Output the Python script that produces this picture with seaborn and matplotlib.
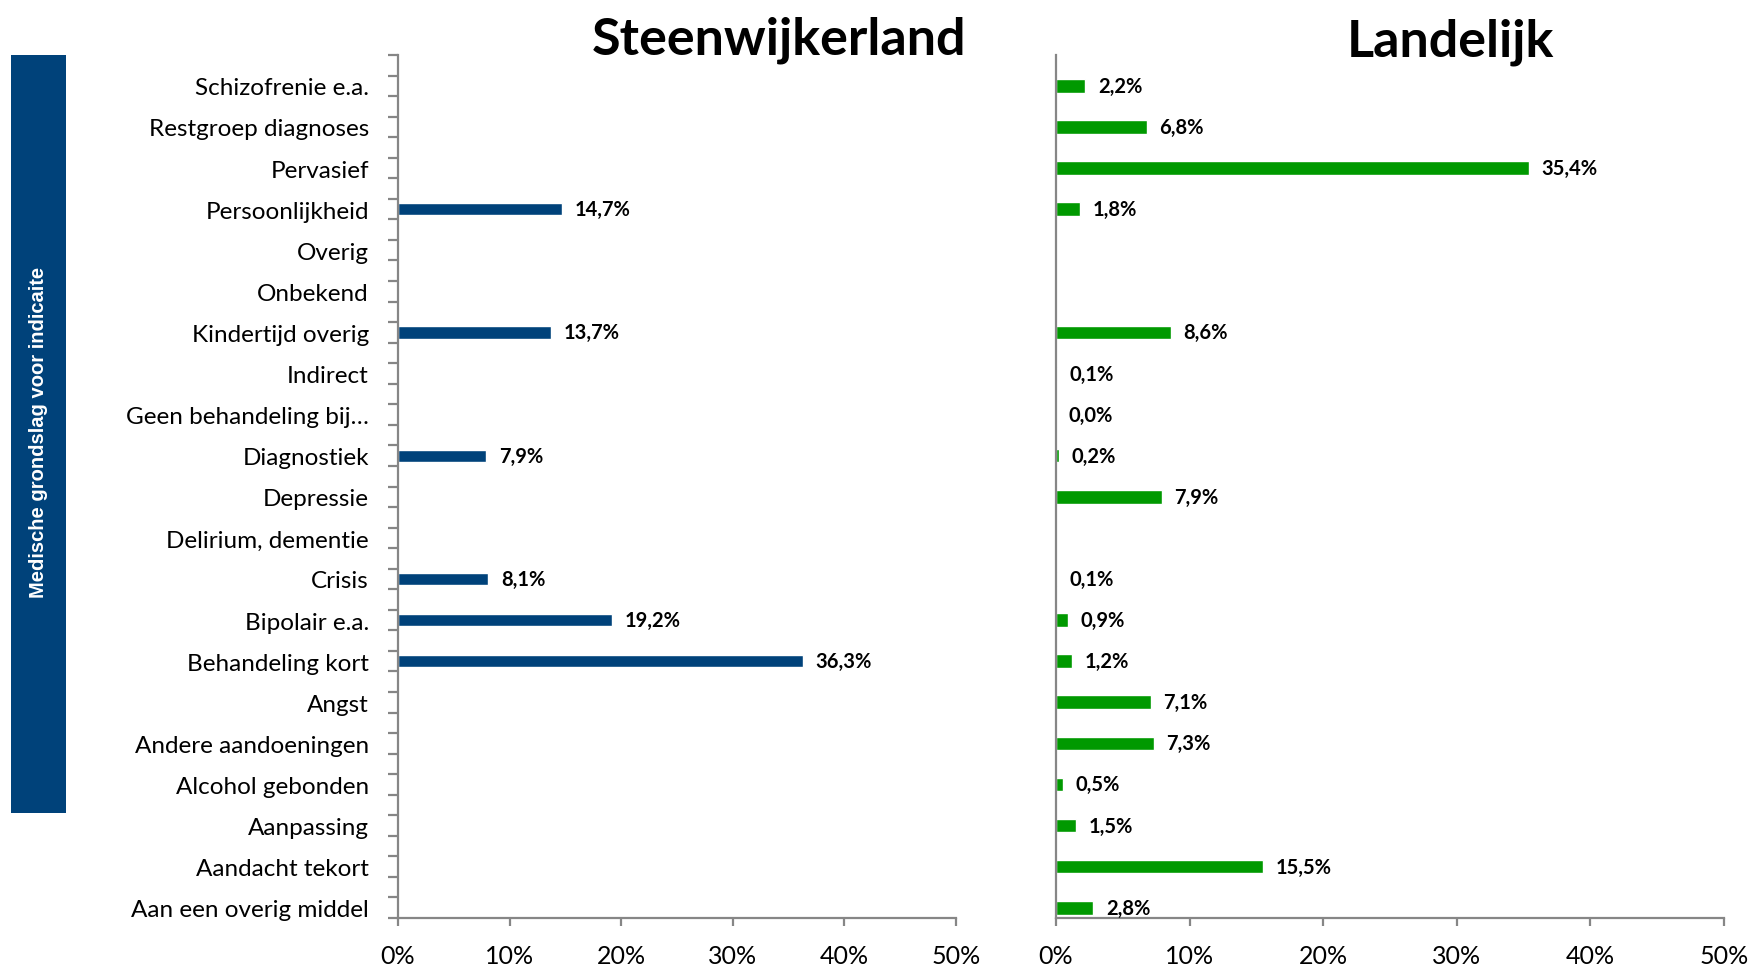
import numpy as np
import pandas as pd
import matplotlib
matplotlib.use("Agg")
import matplotlib.pyplot as plt
from matplotlib.patches import Rectangle
from matplotlib.ticker import FixedLocator, FuncFormatter
import seaborn as sns

# Categories, top to bottom
categories = [
    "Schizofrenie e.a.", "Restgroep diagnoses", "Pervasief", "Persoonlijkheid",
    "Overig", "Onbekend", "Kindertijd overig", "Indirect",
    "Geen behandeling bij\u2026", "Diagnostiek", "Depressie", "Delirium, dementie",
    "Crisis", "Bipolair e.a.", "Behandeling kort", "Angst",
    "Andere aandoeningen", "Alcohol gebonden", "Aanpassing", "Aandacht tekort",
    "Aan een overig middel",
]

# Share of indications (%), None = no cases
steenwijkerland = [
    None, None, None, 14.7,
    None, None, 13.7, None,
    None, 7.9, None, None,
    8.1, 19.2, 36.3, None,
    None, None, None, None,
    None,
]
landelijk = [
    2.2, 6.8, 35.4, 1.8,
    None, None, 8.6, 0.1,
    0.0, 0.2, 7.9, None,
    0.1, 0.9, 1.2, 7.1,
    7.3, 0.5, 1.5, 15.5,
    2.8,
]

x_ticks = [0, 10, 20, 30, 40, 50]
panel_titles = ["Steenwijkerland", "Landelijk"]
side_label = "Medische grondslag voor indicaite"

BLUE = "#00427A"
GREEN = "#009900"
AXIS_GREY = "#868686"

sns.set_theme(style="white")
plt.rcParams["font.family"] = ["Lato", "DejaVu Sans"]

W, H = 1753, 970
fig = plt.figure(figsize=(W / 100, H / 100), dpi=100)


def fx(px):
    return px / W


def fy(py):
    return 1 - py / H


ax_top, ax_bot = 56, 919
ax_left = fig.add_axes([fx(398), fy(ax_bot), fx(956 - 398), (ax_bot - ax_top) / H])
ax_right = fig.add_axes([fx(1056), fy(ax_bot), fx(1724 - 1056), (ax_bot - ax_top) / H])

n = len(categories)
# category slots sit a quarter step below the gridline pattern
y_top, y_bot = -0.75, n - 0.75


def pct_label(v):
    return f"{v:.1f}".replace(".", ",") + "%"


def draw_panel(ax, values, color, bar_width, show_labels):
    df = pd.DataFrame({"categorie": categories, "waarde": values}).dropna()
    sns.barplot(data=df, x="waarde", y="categorie", order=categories,
                color=color, width=bar_width, saturation=1, ax=ax,
                errorbar=None, orient="h")
    ax.set_xlim(0, 50)
    ax.set_ylim(y_bot, y_top)
    ax.set_xlabel("")
    ax.set_ylabel("")

    for cont in ax.containers:
        labels = [pct_label(v) for v in cont.datavalues]
        ax.bar_label(cont, labels=labels, padding=9, fontsize=14.5,
                     fontweight="bold", color="black")

    for side in ["top", "right"]:
        ax.spines[side].set_visible(False)
    for side in ["left", "bottom"]:
        ax.spines[side].set_color(AXIS_GREY)
        ax.spines[side].set_linewidth(1.6)

    ax.xaxis.set_major_locator(FixedLocator(x_ticks))
    ax.xaxis.set_major_formatter(FuncFormatter(lambda v, _: f"{v:.0f}%"))
    ax.tick_params(axis="x", which="major", direction="out", length=6,
                   width=1.6, color=AXIS_GREY, labelsize=18, pad=13,
                   labelcolor="black", bottom=True)

    if show_labels:
        ax.yaxis.set_minor_locator(FixedLocator(np.arange(y_top, y_bot + 0.01, 0.5)))
        ax.tick_params(axis="y", which="minor", direction="out", length=7,
                       width=1.6, color=AXIS_GREY, left=True)
        ax.tick_params(axis="y", which="major", length=0, pad=21,
                       labelsize=17.5, labelcolor="black")
    else:
        ax.tick_params(axis="y", which="both", length=0, labelleft=False)
    ax.grid(False)


draw_panel(ax_left, steenwijkerland, BLUE, 0.30, True)
draw_panel(ax_right, landelijk, GREEN, 0.33, False)

# Panel titles
fig.text(fx(779), fy(54), panel_titles[0], ha="center", va="baseline",
         fontsize=37.5, fontweight="bold", color="black")
fig.text(fx(1450), fy(57), panel_titles[1], ha="center", va="baseline",
         fontsize=37.5, fontweight="bold", color="black")

# Side bar with rotated label
box_top, box_bot = 56, 814
fig.patches.append(Rectangle((fx(11), fy(box_bot)), fx(66 - 11), (box_bot - box_top) / H,
                             transform=fig.transFigure, facecolor=BLUE,
                             edgecolor="none", zorder=0))
fig.text(fx(39), fy(432), side_label, rotation=90, ha="center", va="center",
         fontsize=14.5, fontweight="bold", color="white",
         family=["Liberation Sans", "DejaVu Sans"])

fig.savefig("out.png", dpi=100)
